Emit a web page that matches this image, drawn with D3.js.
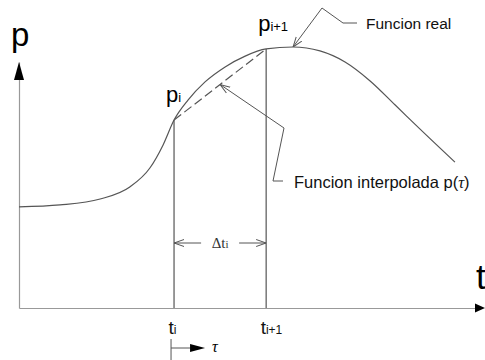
<!DOCTYPE html>
<html>
<head>
<meta charset="utf-8">
<script src="https://cdn.jsdelivr.net/npm/d3@7"></script>
<style>
  body { margin: 0; background: #fff; }
  svg { display: block; font-family: "Liberation Sans", Arial, sans-serif; }
</style>
</head>
<body>
<div id="chart"></div>
<script>
// Real function p(t) (t and p in arbitrary units)
const curveT = [0, 0.90, 1.78, 2.43, 2.87, 3.16, 3.40, 3.71, 4.08, 4.52, 4.96, 5.42, 6.01, 6.60, 7.15, 7.70, 8.25, 8.79, 9.56];
const curveP = [4.11, 4.19, 4.43, 4.92, 5.69, 6.63, 7.64, 8.46, 9.19, 9.80, 10.24, 10.53, 10.61, 10.45, 10.0, 9.23, 8.25, 7.28, 5.93];

// The two interpolation nodes
const nodeT = [3.40, 5.42];
const nodeP = [7.64, 10.53];
const nodeLabels = ["i", "i+1"];

const width = 485, height = 360;

const svg = d3.select("#chart").append("svg")
    .attr("width", width)
    .attr("height", height);

const x = d3.scaleLinear().domain([0, 10]).range([19, 475]);
const y = d3.scaleLinear().domain([0, 10]).range([308, 62]);

const ink = "#555";
const axisInk = "#999";

// Open arrow marker for leaders
const defs = svg.append("defs");
defs.append("marker")
    .attr("id", "open")
    .attr("viewBox", "0 -5 10 10")
    .attr("refX", 10).attr("refY", 0)
    .attr("markerWidth", 10).attr("markerHeight", 10)
    .attr("markerUnits", "userSpaceOnUse")
    .attr("orient", "auto")
    .append("path")
    .attr("d", "M0,-3.5L10,0L0,3.5")
    .attr("fill", "none")
    .attr("stroke", ink)
    .attr("stroke-width", 1);

// Axes (domain lines, t axis labelled at the nodes)
const xAxis = svg.append("g")
    .attr("transform", "translate(0," + y(0) + ")")
    .call(d3.axisBottom(x).tickValues(nodeT).tickSize(0).tickPadding(13).tickSizeOuter(0));
xAxis.select(".domain").attr("stroke", axisInk).attr("stroke-width", 1.2);
xAxis.selectAll("text")
    .attr("fill", "#111")
    .style("font-size", "19px")
    .style("font-family", "Liberation Sans, Arial, sans-serif")
    .attr("text-anchor", "start")
    .attr("dx", -6)
    .each(function(d, i) {
        const t = d3.select(this).text("");
        t.append("tspan").text("t");
        t.append("tspan").style("font-size", "12px").text(nodeLabels[i]);
    });

const yAxis = svg.append("g")
    .attr("transform", "translate(" + x(0) + ",0)")
    .call(d3.axisLeft(y).tickValues([]).tickSizeOuter(0));
yAxis.select(".domain").attr("stroke", axisInk).attr("stroke-width", 1.2);

// Filled arrowheads at the end of the axes
svg.append("path")
    .attr("d", d3.line()([[x(10), y(0) - 4.5], [x(10) + 10, y(0)], [x(10), y(0) + 4.5]]))
    .attr("fill", "#000");
svg.append("path")
    .attr("d", d3.line()([[x(0) - 5, y(10) + 18], [x(0), y(10)], [x(0) + 5, y(10) + 18]]))
    .attr("fill", "#000");

svg.append("text").attr("x", x(0) - 8).attr("y", 46)
    .style("font-size", "33px").text("p");
svg.append("text").attr("x", x(10) + 1).attr("y", 289)
    .style("font-size", "35px").text("t");

// Real function
const pts = curveT.map((t, i) => [x(t), y(curveP[i])]);
svg.append("path")
    .attr("d", d3.line().curve(d3.curveMonotoneX)(pts))
    .attr("fill", "none")
    .attr("stroke", ink)
    .attr("stroke-width", 1.2);

// Vertical lines at t_i and t_i+1
nodeT.forEach((t, i) => {
    svg.append("line")
        .attr("x1", x(t)).attr("x2", x(t))
        .attr("y1", y(nodeP[i])).attr("y2", y(0))
        .attr("stroke", ink).attr("stroke-width", 1.2);
});

// Interpolated chord (dashed)
svg.append("line")
    .attr("x1", x(nodeT[0])).attr("y1", y(nodeP[0]))
    .attr("x2", x(nodeT[1])).attr("y2", y(nodeP[1]))
    .attr("stroke", ink).attr("stroke-width", 1.2)
    .attr("stroke-dasharray", "9,4");

// Node labels p_i, p_i+1
nodeT.forEach((t, i) => {
    const lab = svg.append("text")
        .attr("x", x(t) - 8)
        .attr("y", y(nodeP[i]) - 18)
        .style("font-size", "22px");
    lab.append("tspan").text("p");
    lab.append("tspan").style("font-size", "13px").text(nodeLabels[i]);
});

// Delta t_i arrows
const dY = 243;
const midT = (nodeT[0] + nodeT[1]) / 2;
svg.append("line")
    .attr("x1", x(midT) - 19).attr("x2", x(nodeT[0]))
    .attr("y1", dY).attr("y2", dY)
    .attr("stroke", ink).attr("marker-end", "url(#open)");
svg.append("line")
    .attr("x1", x(midT) + 19).attr("x2", x(nodeT[1]))
    .attr("y1", dY).attr("y2", dY)
    .attr("stroke", ink).attr("marker-end", "url(#open)");
const dt = svg.append("text")
    .attr("x", x(midT)).attr("y", dY + 5)
    .attr("text-anchor", "middle")
    .style("font-family", "Liberation Serif, Times New Roman, serif")
    .style("font-size", "15px")
    .attr("fill", "#333");
dt.append("tspan").text("\u0394t");
dt.append("tspan").style("font-size", "11px").text("i");

// Local variable tau
const tauY = 348;
svg.append("line")
    .attr("x1", x(nodeT[0]) - 3).attr("x2", x(nodeT[0]) - 3)
    .attr("y1", 339).attr("y2", 360)
    .attr("stroke", ink);
svg.append("line")
    .attr("x1", x(nodeT[0]) - 3).attr("x2", x(nodeT[0]) + 18)
    .attr("y1", tauY).attr("y2", tauY)
    .attr("stroke", ink);
svg.append("path")
    .attr("d", d3.line()([[x(nodeT[0]) + 16, tauY - 4], [x(nodeT[0]) + 31, tauY], [x(nodeT[0]) + 16, tauY + 4]]))
    .attr("fill", "#000");
svg.append("text")
    .attr("x", x(nodeT[0]) + 38).attr("y", tauY + 4)
    .style("font-family", "Liberation Serif, Times New Roman, serif")
    .style("font-style", "italic")
    .style("font-size", "16px")
    .text("\u03c4");

// Annotation: Funcion real
const peak = [x(6.01), y(10.61)];
svg.append("path")
    .attr("d", d3.line()([[357, 23], [343, 23], [322, 8], peak]))
    .attr("fill", "none")
    .attr("stroke", ink)
    .attr("marker-end", "url(#open)");
svg.append("text")
    .attr("x", 366).attr("y", 29)
    .style("font-size", "15.5px")
    .attr("fill", "#111")
    .text("Funcion real");

// Annotation: Funcion interpolada
const f = 0.5;
const chordMid = [
    x(nodeT[0]) + f * (x(nodeT[1]) - x(nodeT[0])),
    y(nodeP[0]) + f * (y(nodeP[1]) - y(nodeP[0]))
];
svg.append("path")
    .attr("d", d3.line()([[283, 181], [273, 181], [284, 128], chordMid]))
    .attr("fill", "none")
    .attr("stroke", ink)
    .attr("marker-end", "url(#open)");
const fi = svg.append("text")
    .attr("x", 294).attr("y", 188)
    .style("font-size", "16.5px")
    .attr("fill", "#111");
fi.append("tspan").text("Funcion interpolada p(");
fi.append("tspan")
    .style("font-family", "Liberation Serif, Times New Roman, serif")
    .style("font-style", "italic")
    .text("\u03c4");
fi.append("tspan").text(")");
</script>
</body>
</html>
